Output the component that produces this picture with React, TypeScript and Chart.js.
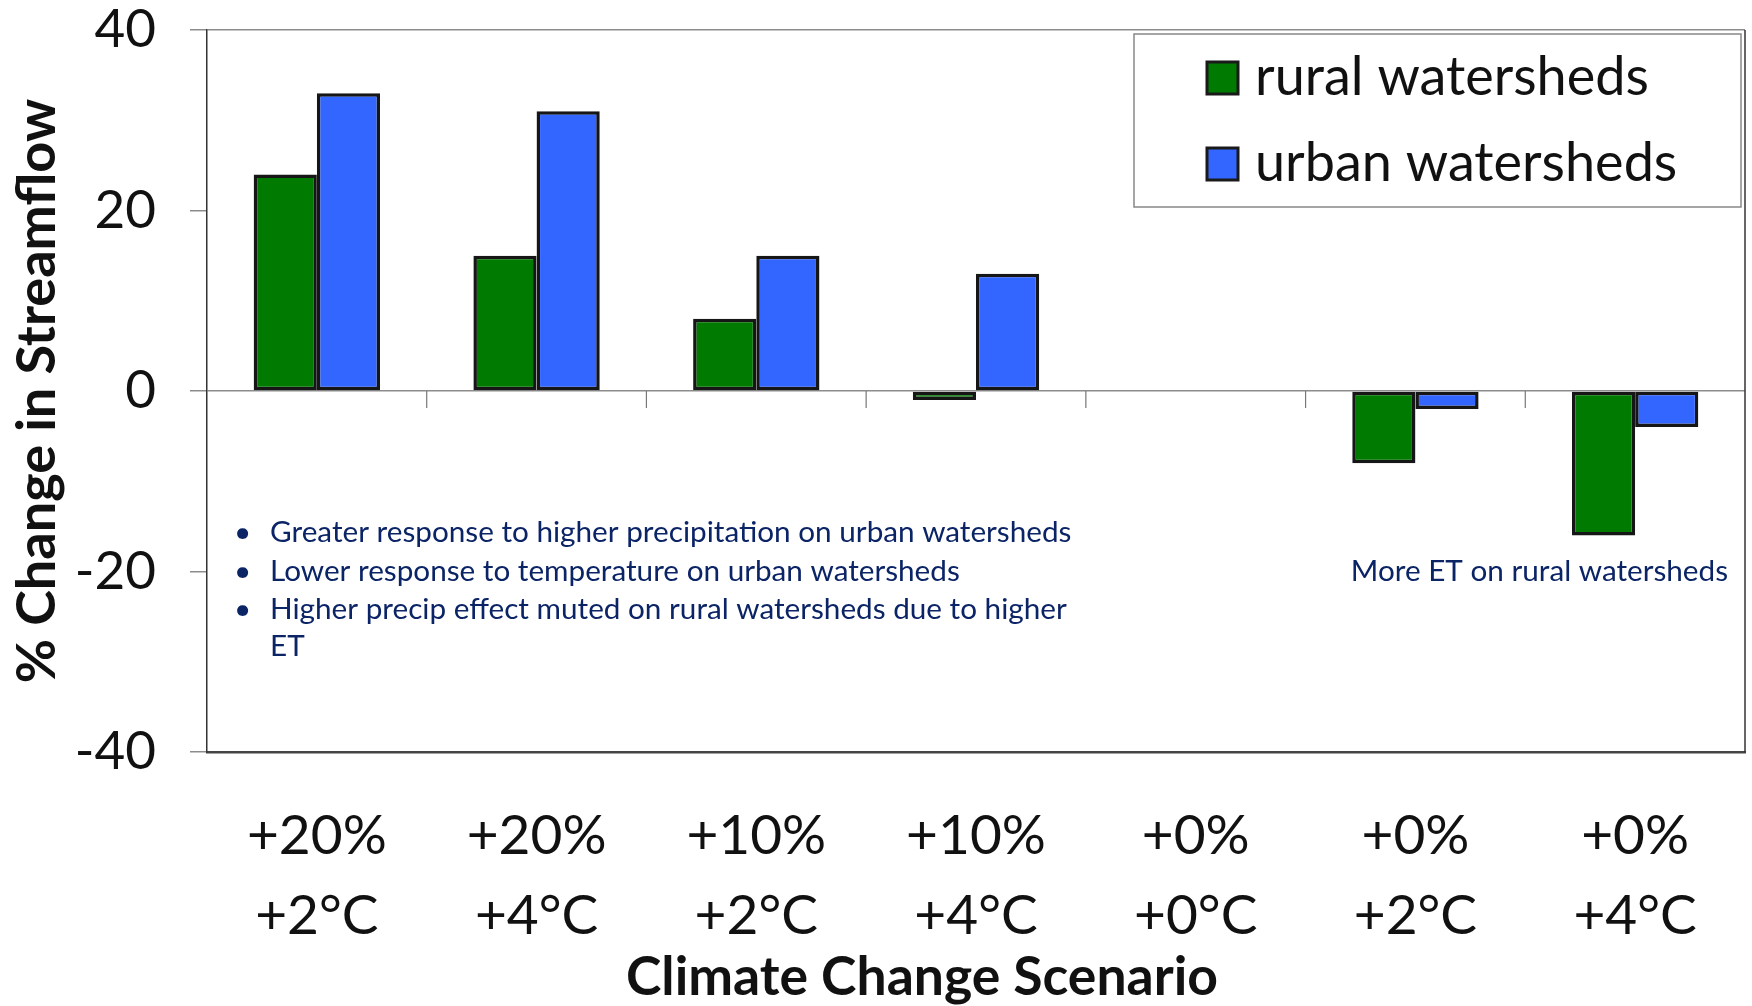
import { useEffect, useRef } from "react";
import { Chart, registerables } from "chart.js";

Chart.register(...registerables);

// precipitation / temperature change per scenario (two-line x labels)
const precipLabels = ["+20%", "+20%", "+10%", "+10%", "+0%", "+0%", "+0%"];
const tempLabels = ["+2°C", "+4°C", "+2°C", "+4°C", "+0°C", "+2°C", "+4°C"];

const ruralValues = [24, 15, 8, -1, 0, -8, -16];
const urbanValues = [33, 31, 15, 13, 0, -2, -4];

const seriesNames = ["rural watersheds", "urban watersheds"];
const seriesColors = ["#007a00", "#3366ff"];

const yMin = -40;
const yMax = 40;
const yStep = 20;

const bulletNotes = [
  "Greater response to higher precipitation on urban watersheds",
  "Lower response to temperature on urban watersheds",
  "Higher precip effect muted on rural watersheds due to higher",
  "ET",
];
const sideNote = "More ET on rural watersheds";
const xTitle = "Climate Change Scenario";
const yTitle = "% Change in Streamflow";

const FONT = "Lato, 'Open Sans', sans-serif";
const NOTE_COLOR = "#0b2466";

const framePlugin = {
  id: "frame",
  afterDatasetsDraw(chart: Chart) {
    const { ctx, chartArea } = chart;
    const x = chart.scales.x;
    const y = chart.scales.y;
    const zeroY = y.getPixelForValue(0);
    ctx.save();
    // right edge of plot
    ctx.strokeStyle = "#333";
    ctx.lineWidth = 1.5;
    ctx.beginPath();
    ctx.moveTo(chartArea.right, chartArea.top);
    ctx.lineTo(chartArea.right, chartArea.bottom);
    ctx.stroke();
    // category tick marks hanging from the zero line
    ctx.strokeStyle = "#777";
    ctx.lineWidth = 1.2;
    const n = chart.data.labels!.length;
    for (let i = 1; i < n; i++) {
      const px = (x.getPixelForTick(i - 1) + x.getPixelForTick(i)) / 2;
      ctx.beginPath();
      ctx.moveTo(px, zeroY);
      ctx.lineTo(px, zeroY + 17);
      ctx.stroke();
    }
    ctx.restore();
  },
  afterDraw(chart: Chart) {
    const { ctx } = chart;
    ctx.save();
    // notes
    ctx.fillStyle = NOTE_COLOR;
    ctx.font = `29.7px ${FONT}`;
    ctx.textBaseline = "middle";
    ctx.textAlign = "left";
    const lineYs = [532, 571, 609, 646];
    bulletNotes.forEach((t, i) => {
      if (i < 3) ctx.fillText("•", 234, lineYs[i]);
      ctx.fillText(t, 270, lineYs[i]);
    });
    ctx.textAlign = "right";
    ctx.fillText(sideNote, 1728, 571);

    // x-axis title
    ctx.fillStyle = "#111";
    ctx.font = `bold 53.5px ${FONT}`;
    ctx.textAlign = "center";
    ctx.fillText(xTitle, 922, 978);

    // legend box
    const bx = 1134, by = 34, bw = 607, bh = 173;
    ctx.fillStyle = "#fff";
    ctx.fillRect(bx, by, bw, bh);
    ctx.strokeStyle = "#888";
    ctx.lineWidth = 1.5;
    ctx.strokeRect(bx, by, bw, bh);
    const rowYs = [78, 164];
    chart.data.datasets.forEach((ds, i) => {
      const cy = rowYs[i];
      ctx.fillStyle = ds.backgroundColor as string;
      ctx.fillRect(1207, cy - 16, 31, 32);
      ctx.strokeStyle = "#1a1a1a";
      ctx.lineWidth = 3;
      ctx.strokeRect(1207, cy - 16, 31, 32);
      ctx.fillStyle = "#111";
      ctx.font = `54px ${FONT}`;
      ctx.textAlign = "left";
      ctx.textBaseline = "middle";
      ctx.fillText(ds.label as string, 1255, cy);
    });
    ctx.restore();
  },
};

function StreamflowChart() {
  const canvasRef = useRef<HTMLCanvasElement>(null);
  const chartRef = useRef<Chart | null>(null);

  useEffect(() => {
    if (!canvasRef.current) return;
    if (chartRef.current) chartRef.current.destroy();

    const labels = precipLabels.map((p, i) => [p, tempLabels[i]]);
    const makeSet = (i: number, values: number[]) => ({
      label: seriesNames[i],
      data: values,
      backgroundColor: seriesColors[i],
      borderColor: "#161616",
      borderWidth: (c: any) => (c.raw === 0 ? 0 : 3.5),
      borderSkipped: false as const,
      categoryPercentage: 0.575,
      barPercentage: 1,
    });

    chartRef.current = new Chart(canvasRef.current, {
      type: "bar",
      data: {
        labels,
        datasets: [makeSet(0, ruralValues), makeSet(1, urbanValues)],
      },
      options: {
        responsive: true,
        maintainAspectRatio: false,
        animation: false,
        layout: { padding: { top: 30, right: 7, left: 0, bottom: 0 } },
        plugins: {
          legend: { display: false },
          tooltip: { enabled: false },
        },
        scales: {
          x: {
            grid: { display: false, drawTicks: false },
            border: { display: true, color: "#444", width: 2.5 },
            ticks: {
              color: "#111",
              font: { family: FONT, size: 55, lineHeight: 1.44 },
              padding: 45,
              maxRotation: 0,
              autoSkip: false,
            },
            afterFit: (s: any) => {
              s.height = 254;
              s.paddingTop = 0;
              s.paddingBottom = 0;
            },
          },
          y: {
            min: yMin,
            max: yMax,
            ticks: {
              stepSize: yStep,
              color: "#111",
              font: { family: FONT, size: 53, lineHeight: 1.0 },
              padding: 34,
            },
            grid: {
              drawOnChartArea: true,
              color: (c: any) =>
                c.tick && (c.tick.value === 0 || c.tick.value === yMax) ? "#8c8c8c" : "rgba(0,0,0,0)",
              lineWidth: 1.5,
              tickColor: "#8c8c8c",
              tickLength: 17,
            },
            border: { display: true, color: "#333", width: 1.5 },
            title: {
              display: true,
              text: yTitle,
              color: "#111",
              font: { family: FONT, size: 54, weight: "bold", lineHeight: 1.2 },
              padding: { top: 5, bottom: 0 },
            },
            afterFit: (s: any) => {
              s.width = 207;
              s.paddingTop = 0;
              s.paddingBottom = 0;
            },
          },
        },
      },
      plugins: [framePlugin],
    });

    return () => {
      if (chartRef.current) {
        chartRef.current.destroy();
        chartRef.current = null;
      }
    };
  }, []);

  return (
    <div style={{ position: "absolute", left: 0, top: 0, width: 1752, height: 1006, background: "#fff" }}>
      <canvas ref={canvasRef} />
    </div>
  );
}

export default function App() {
  return <StreamflowChart />;
}
